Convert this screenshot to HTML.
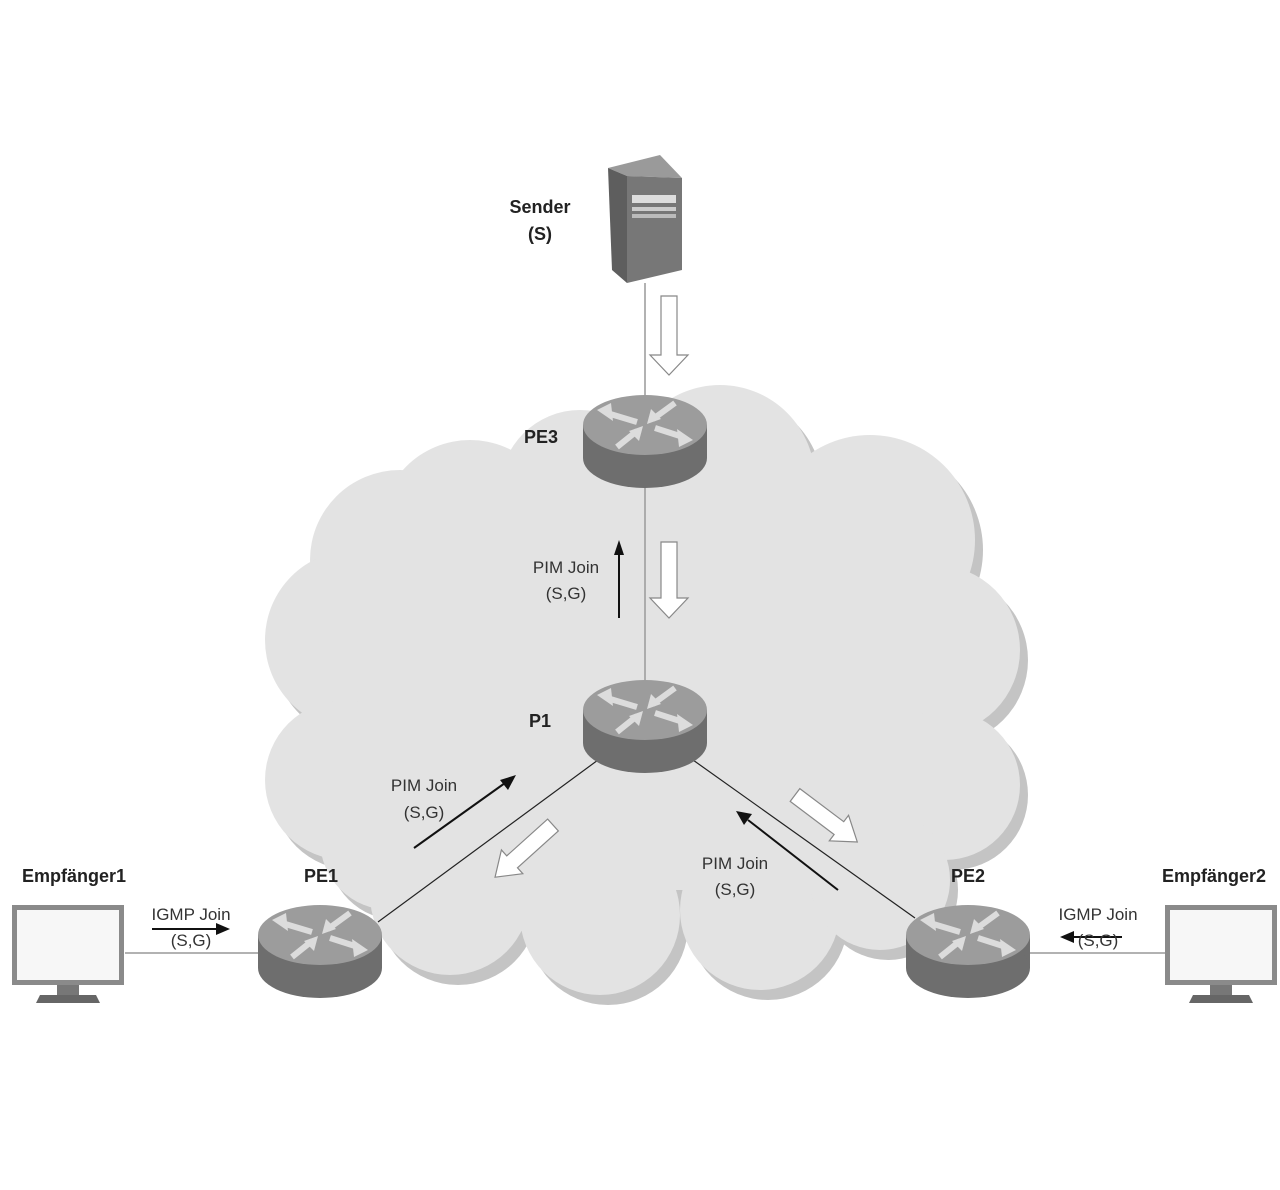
<!DOCTYPE html>
<html><head><meta charset="utf-8"><style>
html,body{margin:0;padding:0;background:#fff}
svg{display:block}
text{font-family:"Liberation Sans",Arial,sans-serif}
.b{font-weight:bold;font-size:18px;fill:#222}
.n{font-size:17px;fill:#333}
</style></head><body>
<svg width="1280" height="1190" viewBox="0 0 1280 1190" xmlns="http://www.w3.org/2000/svg">
<defs>
<g id="cloud">
<circle cx="720" cy="480" r="95"/>
<circle cx="580" cy="490" r="80"/>
<circle cx="470" cy="530" r="90"/>
<circle cx="400" cy="560" r="90"/>
<circle cx="870" cy="540" r="105"/>
<circle cx="355" cy="640" r="90"/>
<circle cx="345" cy="780" r="80"/>
<circle cx="390" cy="840" r="70"/>
<circle cx="935" cy="650" r="85"/>
<circle cx="945" cy="785" r="75"/>
<circle cx="450" cy="895" r="80"/>
<circle cx="600" cy="915" r="80"/>
<circle cx="760" cy="910" r="80"/>
<circle cx="880" cy="880" r="70"/>
<rect x="390" y="520" width="530" height="370"/>
</g>
<g id="router">
<rect x="-62" y="0" width="124" height="33" fill="#6e6e6e"/>
<ellipse cx="0" cy="33" rx="62" ry="30" fill="#6e6e6e"/>
<ellipse cx="0" cy="0" rx="62" ry="30" fill="#9c9c9c"/>
<g stroke="#dcdcdc" stroke-width="6" fill="#dcdcdc">
<line x1="-8" y1="-3" x2="-38" y2="-12"/><polygon points="-48,-15 -34,-22 -32,-4" stroke="none"/>
<line x1="30" y1="-22" x2="8" y2="-6"/><polygon points="2,-1 6,-16 16,-6" stroke="none"/>
<line x1="10" y1="3" x2="38" y2="12"/><polygon points="48,15 34,22 32,4" stroke="none"/>
<line x1="-28" y1="22" x2="-8" y2="6"/><polygon points="-2,1 -6,16 -16,6" stroke="none"/>
</g>
</g>
<g id="mon">
<rect x="0" y="0" width="112" height="80" fill="#8a8a8a"/>
<rect x="5" y="5" width="102" height="70" fill="#f7f7f7"/>
<rect x="45" y="80" width="22" height="10" fill="#777"/>
<polygon points="28,90 84,90 88,98 24,98" fill="#666"/>
</g>
</defs>
<use href="#cloud" transform="translate(8,10)" fill="#c4c4c4"/>
<use href="#cloud" fill="#e3e3e3"/>

<g stroke="#999" stroke-width="1.5">
<line x1="645" y1="283" x2="645" y2="400"/>
<line x1="645" y1="480" x2="645" y2="690"/>
<line x1="125" y1="953" x2="262" y2="953"/>
<line x1="1030" y1="953" x2="1168" y2="953"/>
</g>
<g stroke="#222" stroke-width="1.2">
<line x1="598" y1="760" x2="378" y2="922"/>
<line x1="693" y1="760" x2="915" y2="918"/>
</g>

<polygon points="608,168 660,155 682,178 627,176" fill="#9a9a9a"/>
<polygon points="608,168 627,176 627,283 612,270" fill="#5e5e5e"/>
<polygon points="627,176 682,178 682,270 627,283" fill="#777"/>
<rect x="632" y="195" width="44" height="8" fill="#ddd"/>
<rect x="632" y="207" width="44" height="4" fill="#ccc"/>
<rect x="632" y="214" width="44" height="4" fill="#bbb"/>

<use href="#router" transform="translate(645,425)"/>
<use href="#router" transform="translate(645,710)"/>
<use href="#router" transform="translate(320,935)"/>
<use href="#router" transform="translate(968,935)"/>

<use href="#mon" transform="translate(12,905)"/>
<use href="#mon" transform="translate(1165,905)"/>

<g fill="#fff" stroke="#888" stroke-width="1.2">
<polygon points="661,296 677,296 677,355 688,355 669,375 650,355 661,355"/>
<polygon points="661,542 677,542 677,598 688,598 669,618 650,598 661,598"/>
<polygon points="0,-8 55,-8 55,-16 78,0 55,16 55,8 0,8" transform="translate(553,825) rotate(138)"/>
<polygon points="0,-8 55,-8 55,-16 78,0 55,16 55,8 0,8" transform="translate(795,795) rotate(37)"/>
</g>

<g stroke="#111" stroke-width="2" fill="#111">
<line x1="619" y1="618" x2="619" y2="552"/><polygon points="614,555 624,555 619,540" stroke="none"/>
<line x1="414" y1="848" x2="505" y2="783"/><polygon points="516,775 508,790 500,780" stroke="none"/>
<line x1="838" y1="890" x2="748" y2="820"/><polygon points="736,811 752,814 744,825" stroke="none"/>
<line x1="152" y1="929" x2="218" y2="929"/><polygon points="230,929 216,923 216,935" stroke="none"/>
<line x1="1122" y1="937" x2="1072" y2="937"/><polygon points="1060,937 1074,931 1074,943" stroke="none"/>
</g>

<text class="b" x="540" y="213" text-anchor="middle">Sender</text>
<text class="b" x="540" y="240" text-anchor="middle">(S)</text>
<text class="b" x="541" y="443" text-anchor="middle">PE3</text>
<text class="b" x="540" y="727" text-anchor="middle">P1</text>
<text class="b" x="321" y="882" text-anchor="middle">PE1</text>
<text class="b" x="968" y="882" text-anchor="middle">PE2</text>
<text class="b" x="74" y="882" text-anchor="middle">Empfänger1</text>
<text class="b" x="1214" y="882" text-anchor="middle">Empfänger2</text>
<text class="n" x="566" y="573" text-anchor="middle">PIM Join</text>
<text class="n" x="566" y="599" text-anchor="middle">(S,G)</text>
<text class="n" x="424" y="791" text-anchor="middle">PIM Join</text>
<text class="n" x="424" y="818" text-anchor="middle">(S,G)</text>
<text class="n" x="735" y="869" text-anchor="middle">PIM Join</text>
<text class="n" x="735" y="895" text-anchor="middle">(S,G)</text>
<text class="n" x="191" y="920" text-anchor="middle">IGMP Join</text>
<text class="n" x="191" y="946" text-anchor="middle">(S,G)</text>
<text class="n" x="1098" y="920" text-anchor="middle">IGMP Join</text>
<text class="n" x="1098" y="946" text-anchor="middle">(S,G)</text>
</svg>
</body></html>
